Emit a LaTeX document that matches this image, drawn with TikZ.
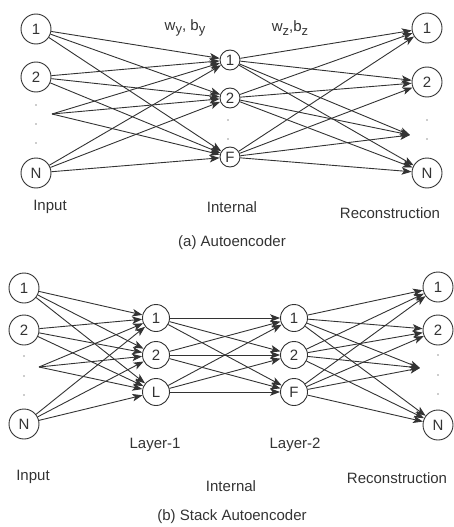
\documentclass[tikz,border=0pt]{standalone}
\usepackage{fontspec}
\setmainfont{Liberation Sans}
\usetikzlibrary{arrows.meta}
\definecolor{ink}{HTML}{333333}
\definecolor{wire}{HTML}{333333}
\newcommand{\sbs}[1]{\raisebox{-3.5pt}{\fontsize{13}{13}\selectfont #1}}
\begin{document}
\begin{tikzpicture}[x=1pt,y=-1pt,
 big/.style={circle,draw=ink,line width=0.9pt,minimum size=30pt,inner sep=0pt,font=\fontsize{15}{15}\selectfont,text=ink},
 small/.style={big,minimum size=20pt},
 mid/.style={big,minimum size=27pt},
 lbl/.style={font=\fontsize{15}{18}\selectfont,text=ink,inner sep=0pt},
 edge/.style={draw=wire,line width=0.9pt,-{Stealth[length=10pt,width=7.5pt,inset=2.5pt]}},
 pdot/.style={circle,fill=gray!80,inner sep=0pt,minimum size=1.6pt}]
\useasboundingbox (0,0) rectangle (454,527);
% ---------- (a) ----------
\node[big] (a1) at (36,29) {1};
\node[big] (a2) at (36,77) {2};
\coordinate (ad) at (52,114);
\node[big] (aN) at (36,173) {N};
\node[small] (h1) at (230,60) {1};
\node[small] (h2) at (230,98) {2};
\node[small] (hF) at (230,157) {F};
\node[big] (r1) at (427,28) {1};
\node[big] (r2) at (427,82) {2};
\coordinate (rd) at (410,135);
\node[big] (rN) at (427,173) {N};
\foreach \s in {a1,a2,ad,aN}{\foreach \t in {h1,h2,hF}{\draw[edge] (\s) -- (\t);}}
\foreach \s in {h1,h2,hF}{\foreach \t in {r1,r2,rd,rN}{\draw[edge] (\s) -- (\t);}}
\foreach \p [count=\i] in {(36,105),(36,124),(36,143),(228,120),(228,139),(427,120),(427,139)}{\node[pdot] (ap\i) at \p {};}
\node[lbl] (wy) at (185,28) {w\sbs{y}, b\sbs{y}};
\node[lbl] (wz) at (290,28) {w\sbs{z},b\sbs{z}};
\node[lbl] (ain) at (50,207) {Input};
\node[lbl] (aint) at (232,207) {Internal};
\node[lbl] (arec) at (390,213) {Reconstruction};
\node[lbl] (acap) at (232,243) {(a) Autoencoder};
% ---------- (b) ----------
\node[big] (b1) at (24,288) {1};
\node[big] (b2) at (24,330) {2};
\coordinate (bd) at (39,367);
\node[big] (bN) at (24,424) {N};
\node[mid] (p1) at (156,318) {1};
\node[mid] (p2) at (156,355) {2};
\node[mid] (pL) at (156,392) {L};
\node[mid] (q1) at (294,318) {1};
\node[mid] (q2) at (294,355) {2};
\node[mid] (qF) at (294,392) {F};
\node[big] (s1) at (438,287) {1};
\node[big] (s2) at (438,330) {2};
\coordinate (sd) at (420,368);
\node[big] (sN) at (438,425) {N};
\foreach \s in {b1,b2,bd,bN}{\foreach \t in {p1,p2,pL}{\draw[edge] (\s) -- (\t);}}
\foreach \s in {p1,p2,pL}{\foreach \t in {q1,q2,qF}{\draw[edge] (\s) -- (\t);}}
\foreach \s in {q1,q2,qF}{\foreach \t in {s1,s2,sd,sN}{\draw[edge] (\s) -- (\t);}}
\foreach \p [count=\i] in {(24,356),(24,376),(24,395),(438,355),(438,375),(438,394)}{\node[pdot] (bp\i) at \p {};}
\node[lbl] (l1) at (155,445) {Layer-1};
\node[lbl] (l2) at (295,445) {Layer-2};
\node[lbl] (bin) at (33,477) {Input};
\node[lbl] (bint) at (231,486) {Internal};
\node[lbl] (brec) at (397,478) {Reconstruction};
\node[lbl] (bcap) at (232,517) {(b) Stack Autoencoder};
\end{tikzpicture}
\end{document}
